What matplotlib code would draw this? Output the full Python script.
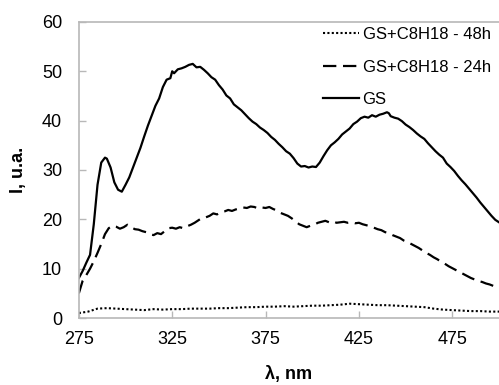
import matplotlib
matplotlib.use("Agg")
import matplotlib.pyplot as plt

plt.rcParams['font.family'] = ['Liberation Sans', 'DejaVu Sans']

wl_gs = [275, 277, 279, 281, 283, 285, 287, 289, 290, 292, 294, 296, 298, 300, 302, 304, 306, 308, 310,
         312, 314, 316, 318, 320, 322, 324, 325, 326, 328, 330, 332, 334, 336, 338, 340, 342, 344, 346,
         348, 350, 352, 354, 356, 358, 360, 362, 364, 366, 368, 370, 372, 374, 376, 378, 380, 382, 384,
         386, 388, 390, 392, 394, 396, 398, 400, 402, 404, 406, 408, 410, 412, 414, 416, 418, 420, 422,
         424, 426, 428, 430, 432, 434, 436, 438, 440, 441, 442, 444, 446, 448, 450, 452, 454, 456, 458,
         460, 462, 464, 466, 468, 470, 472, 474, 476, 478, 480, 482, 484, 486, 488, 490, 492, 494, 496,
         498, 500]
gs = [8.1, 9.5, 11.2, 12.8, 19.0, 27.0, 31.5, 32.5, 32.3, 30.5, 27.5, 26.0, 25.6, 27.0, 28.5, 30.5,
      32.5, 34.5, 36.8, 39.0, 41.0, 43.0, 44.5, 46.8, 48.3, 48.6, 50.0, 49.6, 50.4, 50.6, 50.9, 51.3,
      51.5, 50.8, 50.9, 50.3, 49.6, 48.8, 48.3, 47.2, 46.3, 45.1, 44.5, 43.3, 42.7, 42.1, 41.3, 40.5,
      39.8, 39.3, 38.6, 38.1, 37.5, 36.7, 36.1, 35.3, 34.6, 33.8, 33.3, 32.4, 31.3, 30.7, 30.8, 30.5,
      30.7, 30.6, 31.5, 32.8, 34.0, 35.0, 35.6, 36.3, 37.2, 37.8, 38.4, 39.3, 39.8, 40.5, 40.8, 40.6,
      41.1, 40.8, 41.2, 41.4, 41.7, 41.5, 40.9, 40.6, 40.4, 39.9, 39.2, 38.7, 38.1, 37.4, 36.8, 36.3,
      35.4, 34.6, 33.8, 33.1, 32.5, 31.3, 30.6, 29.8, 28.8, 27.9, 27.1, 26.2, 25.3, 24.4, 23.4, 22.5,
      21.6, 20.7, 19.9, 19.4]

wl_24 = [275, 277, 279, 281, 283, 285, 287, 289, 291, 293, 295, 297, 299, 301, 303, 305, 307, 309, 311,
         313, 315, 317, 319, 321, 323, 325, 327, 329, 331, 333, 335, 337, 339, 341, 343, 345, 347, 349,
         351, 353, 355, 357, 359, 361, 363, 365, 367, 369, 371, 373, 375, 377, 379, 381, 383, 385, 387,
         389, 391, 393, 395, 397, 399, 401, 403, 405, 407, 409, 411, 413, 415, 417, 419, 421, 423, 425,
         427, 429, 431, 433, 435, 437, 439, 441, 443, 445, 447, 449, 451, 453, 455, 457, 459, 461, 463,
         465, 467, 469, 471, 473, 475, 477, 479, 481, 483, 485, 487, 489, 491, 493, 495, 497, 499, 500]
gs_24h = [5.0, 7.5, 8.7, 10.0, 11.5, 13.2, 15.0, 17.0, 18.2, 18.7, 18.5, 18.1, 18.4, 18.9, 18.4, 18.0,
          17.9, 17.6, 17.4, 17.0, 16.8, 17.2, 17.0, 17.6, 18.2, 18.3, 18.1, 18.4, 18.2, 18.6, 18.9, 19.3,
          19.8, 20.3, 20.4, 20.7, 21.2, 21.0, 21.4, 21.6, 21.9, 21.7, 22.0, 22.2, 22.4, 22.3, 22.6, 22.5,
          22.2, 22.4, 22.3, 22.5, 22.1, 21.8, 21.3, 21.0, 20.7, 20.2, 19.6, 19.0, 18.7, 18.4, 18.7, 18.9,
          19.3, 19.5, 19.7, 19.4, 19.6, 19.3, 19.4, 19.5, 19.3, 19.4, 19.2, 19.3, 19.0, 18.8, 18.6, 18.3,
          18.0, 17.8, 17.4, 17.2, 16.8, 16.5, 16.2, 15.7, 15.4, 15.0, 14.6, 14.2, 13.7, 13.2, 12.8, 12.3,
          11.9, 11.4, 11.0, 10.5, 10.1, 9.7, 9.3, 8.9, 8.5, 8.1, 7.8, 7.5, 7.3, 7.0, 6.8, 6.5, 6.2, 6.1]

wl_48 = [275, 280, 285, 290, 295, 300, 305, 310, 315, 320, 325, 330, 335, 340, 345, 350, 355, 360, 365,
         370, 375, 380, 385, 390, 395, 400, 405, 410, 415, 420, 425, 430, 435, 440, 445, 450, 455, 460,
         465, 470, 475, 480, 485, 490, 495, 500]
gs_48h = [1.0, 1.3, 1.9, 2.0, 1.9, 1.8, 1.7, 1.6, 1.8, 1.7, 1.8, 1.8, 1.9, 1.9, 1.9, 2.0, 2.0, 2.1,
          2.2, 2.2, 2.3, 2.3, 2.4, 2.3, 2.4, 2.5, 2.5, 2.6, 2.7, 2.9, 2.8, 2.7, 2.6, 2.6, 2.5, 2.4, 2.3,
          2.2, 1.9, 1.7, 1.6, 1.5, 1.4, 1.4, 1.3, 1.3]

labels = ['GS+C8H18 - 48h', 'GS+C8H18 - 24h', 'GS']
xticks = [275, 325, 375, 425, 475]
yticks = [0, 10, 20, 30, 40, 50, 60]

fig = plt.figure(figsize=(4.99, 3.85), dpi=100)
ax = fig.add_axes([0.158, 0.174, 0.842, 0.769])

ax.plot(wl_48, gs_48h, color='black', lw=1.5, linestyle=(0, (1, 1.1)), label=labels[0])
ax.plot(wl_24, gs_24h, color='black', lw=1.6, linestyle=(0, (6, 3)), label=labels[1])
ax.plot(wl_gs, gs, color='black', lw=1.6, linestyle='-', label=labels[2])

ax.set_xlim(275, 500)
ax.set_ylim(0, 60)
ax.set_xticks(xticks)
ax.set_yticks(yticks)

for s in ['left', 'bottom', 'top']:
    ax.spines[s].set_color('#b8b8b8')
    ax.spines[s].set_linewidth(1.2)
ax.spines['right'].set_visible(False)

ax.tick_params(axis='both', direction='in', length=5, width=1, color='#b8b8b8',
               labelsize=13, pad=9)
ax.tick_params(axis='y', pad=12)

ax.set_xlabel('λ, nm', fontsize=13, fontweight='bold', labelpad=13)
ax.set_ylabel('I, u.a.', fontsize=13, fontweight='bold', labelpad=11)

leg = ax.legend(loc='upper right', bbox_to_anchor=(1.0, 1.01), frameon=False, fontsize=12,
                handlelength=2.2, handletextpad=0.2, labelspacing=1.05, borderaxespad=0.1)

fig.savefig('out.png', dpi=100)
